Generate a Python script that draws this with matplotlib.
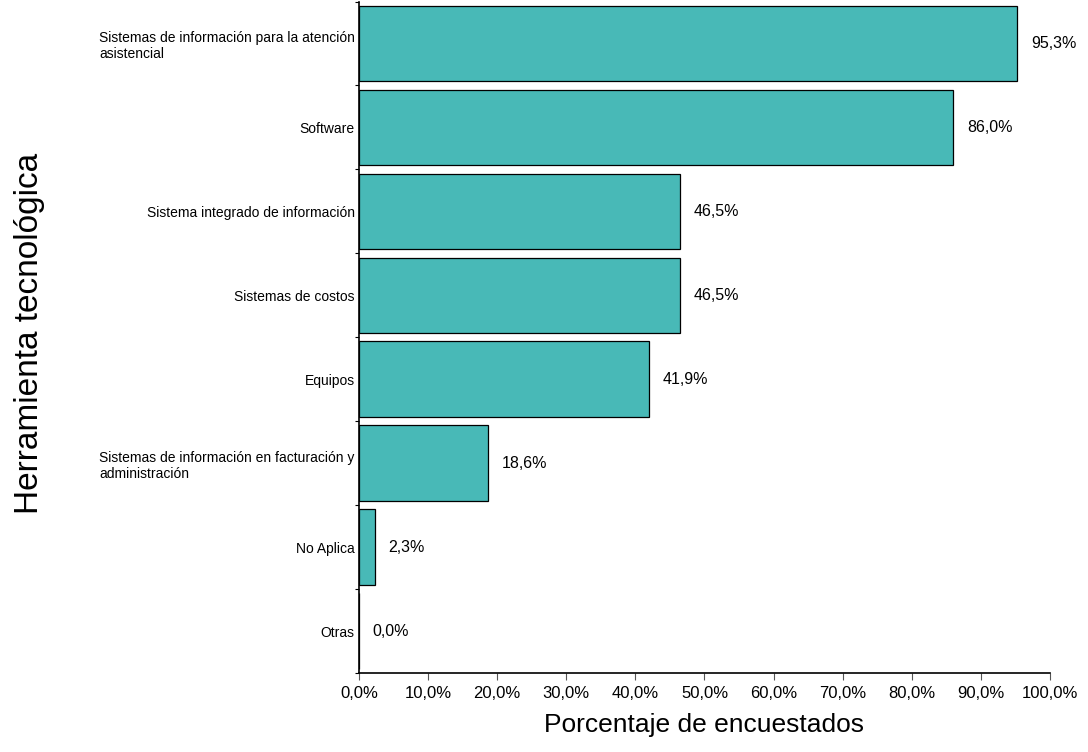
import matplotlib
matplotlib.use('Agg')
import matplotlib.pyplot as plt
import numpy as np

plt.rcParams['font.family'] = ['Liberation Sans', 'DejaVu Sans']

categorias = [
    'Sistemas de información para la atención\nasistencial',
    'Software',
    'Sistema integrado de información',
    'Sistemas de costos',
    'Equipos',
    'Sistemas de información en facturación y\nadministración',
    'No Aplica',
    'Otras',
]
valores = [95.3, 86.0, 46.5, 46.5, 41.9, 18.6, 2.3, 0.0]
xticks = np.arange(0, 101, 10)

fig = plt.figure(figsize=(10.88, 7.52), dpi=100)
ax = fig.add_axes([0.330, 0.105, 0.635, 0.893])

y = np.arange(len(categorias))
ax.barh(y, valores, height=0.9, color='#48B9B7', edgecolor='black', linewidth=0.9)

for yi, v in zip(y, valores):
    ax.text(v + 2.0, yi, f'{v:.1f}%'.replace('.', ','), va='center', ha='left',
            fontsize=11.5)

ax.set_ylim(len(categorias) - 0.5, -0.5)
ax.set_xlim(0, 100)
ax.set_yticks(y)
ax.set_yticklabels(categorias, fontsize=10, ha='right', multialignment='left')
ax.tick_params(axis='y', length=0, pad=3)
ax.set_yticks(np.arange(-0.5, len(categorias), 1), minor=True)
ax.tick_params(axis='y', which='minor', length=3, width=0.8)

ax.set_xticks(xticks)
ax.set_xticklabels([f'{t:.1f}%'.replace('.', ',') for t in xticks], fontsize=12)
ax.tick_params(axis='x', length=5, width=0.8, color='#555555', pad=4)

for s in ['top', 'right']:
    ax.spines[s].set_visible(False)
for s in ['left', 'bottom']:
    ax.spines[s].set_linewidth(1.2)

ax.set_xlabel('Porcentaje de encuestados', fontsize=19, labelpad=9)
fig.text(0.027, 0.557, 'Herramienta tecnológica', rotation=90, fontsize=24,
         va='center', ha='center')

plt.savefig('out.png', dpi=100)
